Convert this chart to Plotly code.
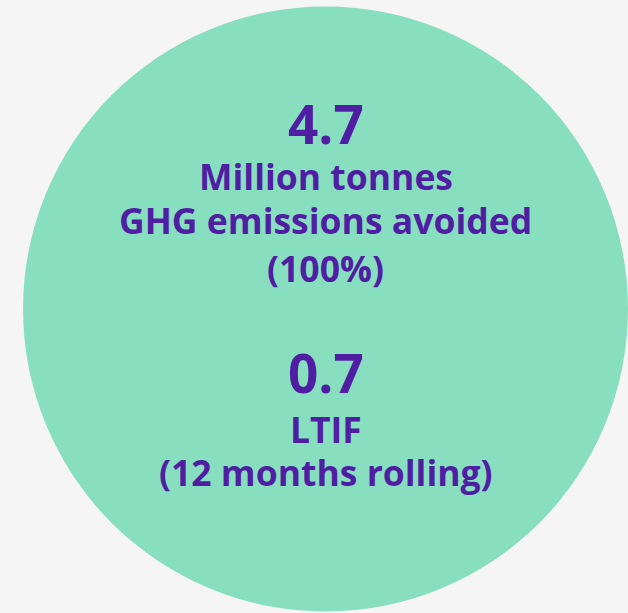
import plotly.graph_objects as go

# Data
metric_values = ["4.7", "0.7"]
metric_labels = [["Million tonnes", "GHG emissions avoided", "(100%)"],
                 ["LTIF", "(12 months rolling)"]]
circle_share = [100]

W, H = 628, 613
BG = "#f5f5f5"
MINT = "#88dfc0"
PURPLE = "#501ea2"
FONT = "Open Sans"

fig = go.Figure()
fig.add_trace(go.Pie(
    values=circle_share,
    marker=dict(colors=[MINT], line=dict(width=0)),
    textinfo="none", hoverinfo="skip", sort=False, showlegend=False,
    domain=dict(x=[23 / W, 1], y=[0, 1 - 5 / H]),
))

def py(pixel_y):
    return 1 - pixel_y / H

# pixel y-centres for each block
big_y = [123, 372]
label_y = [[176, 220, 268], [429, 472]]

annotations = []
for val, by, labels, lys in zip(metric_values, big_y, metric_labels, label_y):
    annotations.append(dict(text=val, x=325.5 / W, y=py(by),
                            xref="paper", yref="paper", showarrow=False,
                            xanchor="center", yanchor="middle",
                            font=dict(family=FONT, size=53, color=PURPLE, weight=700)))
    for lab, ly in zip(labels, lys):
        annotations.append(dict(text=lab, x=325.5 / W, y=py(ly),
                                xref="paper", yref="paper", showarrow=False,
                                xanchor="center", yanchor="middle",
                                font=dict(family=FONT, size=35.5, color=PURPLE, weight=700)))

fig.update_layout(
    width=W, height=H,
    margin=dict(l=0, r=0, t=0, b=0),
    paper_bgcolor=BG, plot_bgcolor=BG,
    annotations=annotations,
)
fig.write_html("out.html",
               config={"displayModeBar": False},
               post_script="document.body.style.margin='0';document.body.style.background='%s';" % BG)
